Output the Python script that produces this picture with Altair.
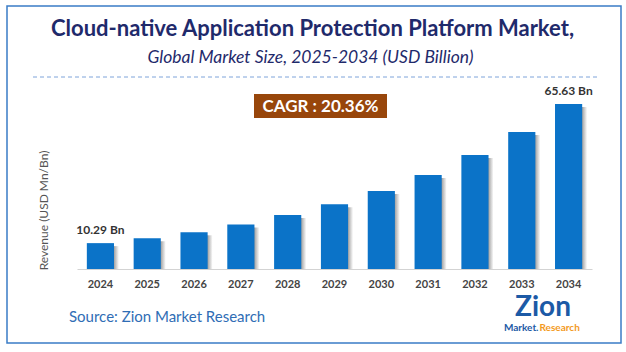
import altair as alt
import pandas as pd

years = ["2024", "2025", "2026", "2027", "2028", "2029", "2030", "2031", "2032", "2033", "2034"]
revenue = [10.29, 12.2, 14.6, 17.7, 21.5, 25.8, 31.0, 37.4, 45.3, 54.5, 65.63]
labels = ["10.29 Bn", "", "", "", "", "", "", "", "", "", "65.63 Bn"]

title_text = ["Cloud-native Application Protection Platform Market,"]
subtitle_text = ["Global Market Size, 2025-2034 (USD Billion)"]
cagr_text = ["CAGR : 20.36%"]
yaxis_text = ["Revenue (USD Mn/Bn)"]
source_text = ["Source: Zion Market Research"]
logo_main = ["Zion"]
logo_sub1 = ["Market."]
logo_sub2 = ["Research"]

FONT = "Lato"
BAR = "#0b73c8"
NAVY = "#1f2a6b"

df = pd.DataFrame({"year": years, "revenue": revenue, "label": labels})

xenc = alt.X("year:N", sort=years,
             scale=alt.Scale(paddingInner=0.42, paddingOuter=0.21),
             axis=alt.Axis(title=None, labelAngle=0, labelFont=FONT, labelFontSize=11,
                           labelFontWeight="bold", labelColor="#444444", ticks=False,
                           labelPadding=9, domainColor="#d3d3d3", domainWidth=1.2,
                           grid=False))
yenc = alt.Y("revenue:Q", scale=alt.Scale(domain=[0, 75.17], nice=False), axis=None)

base = alt.Chart(df)

shadow = base.mark_bar(
    xOffset=5, yOffset=3,
    color=alt.Gradient(gradient="linear", x1=0, x2=1, y1=0, y2=0,
                       stops=[alt.GradientStop(offset=0, color="#8a8a8a"),
                              alt.GradientStop(offset=0.8, color="#9a9a9a"),
                              alt.GradientStop(offset=1, color="#ffffff")])
).encode(x=xenc, y=yenc, y2=alt.datum(0))

bars = base.mark_bar(color=BAR).encode(x=xenc, y=yenc)

bar_labels = base.mark_text(font=FONT, fontSize=12, fontWeight="bold", color="#333333",
                            dy=-13, baseline="middle").encode(
    x=xenc, y=yenc, text="label:N")


def txt(values, **kw):
    d = pd.DataFrame({"t": values})
    enc = {}
    for k in ("x", "y", "x2", "y2"):
        if k in kw:
            enc[k] = alt.value(kw.pop(k))
    return alt.Chart(d).mark_text(**kw).encode(text="t:N", **enc)


frame = alt.Chart(pd.DataFrame({"a": [0]})).mark_rect(
    fill=None, stroke="#3a7cc6", strokeWidth=1.5).encode(
    x=alt.value(-70), x2=alt.value(544), y=alt.value(-74), y2=alt.value(263))

dash = alt.Chart(pd.DataFrame({"a": [0]})).mark_rule(
    color="#7ea4da", strokeDash=[4, 3], strokeWidth=1).encode(
    x=alt.value(-44), x2=alt.value(521), y=alt.value(-3))

cagr_box = alt.Chart(pd.DataFrame({"a": [0]})).mark_rect(color="#98460b").encode(
    x=alt.value(177), x2=alt.value(310), y=alt.value(14), y2=alt.value(38))

title = txt(title_text, x=235.5, y=-44, font=FONT, fontSize=22, fontWeight="bold",
            color=NAVY, align="center", baseline="alphabetic")
subtitle = txt(subtitle_text, x=233.5, y=-17, font=FONT, fontSize=17.5, fontStyle="italic",
               color=NAVY, align="center", baseline="alphabetic")
cagr = txt(cagr_text, x=243.5, y=26.5, font=FONT, fontSize=17, fontWeight="bold",
           color="white", align="center", baseline="middle")
ytitle = txt(yaxis_text, x=-33.5, y=130.5, font=FONT, fontSize=12, color="#555555",
             angle=270, align="center", baseline="middle")
source = txt(source_text, x=-8, y=237, font=FONT, fontSize=15, color="#2f6db5",
             align="left", baseline="middle")
logo1 = txt(logo_main, x=466, y=214, font=FONT, fontSize=28, fontWeight="bold",
            color="#1c5aa6", align="center", baseline="top")
logo2 = txt(logo_sub1, x=461.5, y=251, font=FONT, fontSize=10, fontWeight="bold",
            color="#1c5aa6", align="right", baseline="alphabetic")
logo3 = txt(logo_sub2, x=462.5, y=251, font=FONT, fontSize=10, fontWeight="bold",
            color="#f39a1e", align="left", baseline="alphabetic")

chart = alt.layer(
    frame, dash, cagr_box, shadow, bars, bar_labels,
    title, subtitle, cagr, ytitle, source, logo1, logo2, logo3
).properties(
    width=515, height=189,
    padding={"left": 77, "top": 80, "right": 34, "bottom": 83},
    autosize=alt.AutoSizeParams(type="none"),
    background="white"
).configure_view(stroke=None)

chart.save("out.html", embed_options={"renderer": "svg", "actions": False})
